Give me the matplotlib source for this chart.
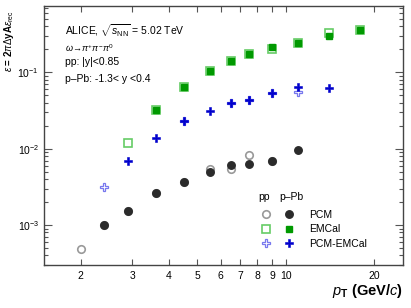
import matplotlib
matplotlib.use("Agg")
import matplotlib.pyplot as plt
from matplotlib.ticker import FixedLocator, FixedFormatter, NullFormatter
from matplotlib.legend_handler import HandlerTuple

plt.rcParams['font.family'] = ['Liberation Sans', 'DejaVu Sans']
plt.rcParams['mathtext.fontset'] = 'custom'
plt.rcParams['mathtext.rm'] = 'Liberation Sans'
plt.rcParams['mathtext.it'] = 'Liberation Sans:italic'
plt.rcParams['mathtext.bf'] = 'Liberation Sans:bold'

# ---- data ----
pcm_pp_x = [2.0, 2.4, 2.9, 3.6, 4.5, 5.5, 6.5, 7.5, 9.0]
pcm_pp_y = [4.9e-4, 1.0e-3, 1.55e-3, 2.6e-3, 3.7e-3, 5.35e-3, 5.45e-3, 8.4e-3, 7.0e-3]
pcm_ppb_x = [2.4, 2.9, 3.6, 4.5, 5.5, 6.5, 7.5, 9.0, 11.0]
pcm_ppb_y = [1.0e-3, 1.55e-3, 2.6e-3, 3.7e-3, 4.9e-3, 6.15e-3, 6.35e-3, 6.95e-3, 9.7e-3]

emc_pp_x = [2.9, 3.6, 4.5, 5.5, 6.5, 7.5, 9.0, 11.0, 14.0, 17.9]
emc_pp_y = [1.2e-2, 3.2e-2, 6.5e-2, 0.105, 0.141, 0.174, 0.205, 0.245, 0.325, 0.357]
emc_ppb_x = [3.6, 4.5, 5.5, 6.5, 7.5, 9.0, 11.0, 14.0, 17.9]
emc_ppb_y = [3.19e-2, 6.53e-2, 0.105, 0.141, 0.174, 0.213, 0.245, 0.303, 0.357]

pe_pp_x = [2.4, 4.5, 6.5, 7.5, 9.0, 11.0]
pe_pp_y = [3.13e-3, 2.29e-2, 3.94e-2, 4.35e-2, 5.34e-2, 5.5e-2]
pe_ppb_x = [2.9, 3.6, 4.5, 5.5, 6.5, 7.5, 9.0, 11.0, 14.0]
pe_ppb_y = [6.88e-3, 1.37e-2, 2.29e-2, 3.16e-2, 3.94e-2, 4.35e-2, 5.34e-2, 6.46e-2, 6.2e-2]

x_ticks = [2, 3, 4, 5, 6, 7, 8, 9, 10, 20]
x_ticklabels = ['2', '3', '4', '5', '6', '7', '8', '9', '10', '20']

fig = plt.figure(figsize=(4.11, 3.08), dpi=100)
ax = fig.add_axes([44/411, 1-265/308, (402.5-44)/411, (265-6)/308])

ms = 5.4
h_pcm_pp, = ax.plot(pcm_pp_x, pcm_pp_y, 'o', ms=ms, mfc='none', mec='#999999', mew=1.2, ls='none', zorder=2)
h_pcm_ppb, = ax.plot(pcm_ppb_x, pcm_ppb_y, 'o', ms=ms, mfc='#2b2b2b', mec='#2b2b2b', ls='none', zorder=3)
h_emc_pp, = ax.plot(emc_pp_x, emc_pp_y, 's', ms=ms, mfc='none', mec='#66cc66', mew=1.2, ls='none', zorder=2)
h_emc_ppb, = ax.plot(emc_ppb_x, emc_ppb_y, 's', ms=ms-0.9, mfc='#009900', mec='#009900', ls='none', zorder=3)
h_pe_pp, = ax.plot(pe_pp_x, pe_pp_y, 'P', ms=ms+0.6, mfc='none', mec='#7777ee', mew=0.9, ls='none', zorder=2)
h_pe_ppb, = ax.plot(pe_ppb_x, pe_ppb_y, 'P', ms=ms+0.6, mfc='#0000cc', mec='#0000cc', mew=0.4, ls='none', zorder=3)

ax.set_xscale('log')
ax.set_yscale('log')
ax.set_xlim(1.5, 25)
ax.set_ylim(3.0e-4, 0.74)

ax.xaxis.set_major_locator(FixedLocator(x_ticks))
ax.xaxis.set_major_formatter(FixedFormatter(x_ticklabels))
ax.xaxis.set_minor_locator(FixedLocator([]))
ax.xaxis.set_minor_formatter(NullFormatter())

ax.tick_params(which='both', direction='in', top=True, right=True, labelsize=7.5, width=0.8, color='#555555')
ax.tick_params(axis='y', which='major', length=6)
ax.tick_params(axis='y', which='minor', length=3)
ax.tick_params(axis='x', which='major', length=4, pad=4)
for sp in ax.spines.values():
    sp.set_linewidth(1.0)
    sp.set_color('#444444')

ax.set_xlabel(r'$\mathbf{\mathit{p}}_{\mathbf{T}}$ (GeV/$\mathit{c}$)', loc='right', fontsize=10.5, fontweight='bold', labelpad=1)
fig.text(9.5/411, 1 - 10/308, r'$\varepsilon$ = 2$\pi\Delta$yA$\varepsilon_{\rm rec}$', rotation=90,
         ha='center', va='top', fontsize=7, fontweight='bold')

fs = 7.5
ax.text(0.058, 0.905, r'ALICE, $\sqrt{s_{\rm NN}}$ = 5.02 TeV', transform=ax.transAxes, fontsize=fs, va='center')
ax.text(0.058, 0.838, r'$\omega\!\rightarrow\!\pi^{+}\pi^{-}\pi^{0}$', transform=ax.transAxes, fontsize=6.5, va='center', family='DejaVu Serif')
ax.text(0.058, 0.785, 'pp: |y|<0.85', transform=ax.transAxes, fontsize=fs, va='center')
ax.text(0.058, 0.718, 'p\u2013Pb: -1.3< y <0.4', transform=ax.transAxes, fontsize=fs, va='center')

ax.text((264-44)/358.5, (265-197)/259, 'pp', transform=ax.transAxes, fontsize=fs, ha='center', va='center')
ax.text((291-44)/358.5, (265-197)/259, 'p\u2013Pb', transform=ax.transAxes, fontsize=fs, ha='center', va='center')

leg = ax.legend([(h_pcm_pp, h_pcm_ppb), (h_emc_pp, h_emc_ppb), (h_pe_pp, h_pe_ppb)],
                ['PCM', 'EMCal', 'PCM-EMCal'],
                handler_map={tuple: HandlerTuple(ndivide=None, pad=0)},
                loc='upper left', bbox_to_anchor=((255 - 44)/358.5, (265-210)/259),
                frameon=False, fontsize=fs, handlelength=4.4, handletextpad=0.8,
                borderpad=0, borderaxespad=0, labelspacing=0.42)

fig.savefig('out.png', dpi=100)
